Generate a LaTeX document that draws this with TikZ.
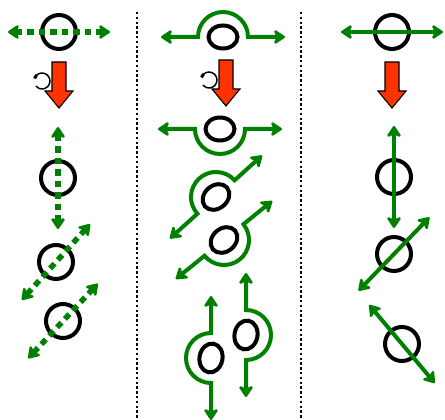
\documentclass[tikz,border=0pt]{standalone}
\usetikzlibrary{arrows.meta,shapes.geometric}
\definecolor{leafgreen}{RGB}{0,128,0}
\definecolor{pushred}{RGB}{255,51,0}
\tikzset{
  tip/.tip={Stealth[length=13pt,width=17pt,inset=3.5pt,round]},
  ring/.style={circle,draw,line width=4pt,minimum size=34pt,inner sep=0pt},
  oval/.style={ellipse,draw,line width=4pt,minimum width=29pt,minimum height=23pt,inner sep=0pt},
  swing/.style={leafgreen,line width=4pt,{tip}-{tip}},
  dotswing/.style={swing,line width=5.5pt,dash pattern=on 6.5pt off 5pt},
  divider/.style={line width=2.5pt,dash pattern=on 2.4pt off 2.4pt},
  pushdown/.style={fill=pushred,draw=black,line width=1.1pt,line join=miter}
}

\begin{document}
\begin{tikzpicture}[x=1pt,y=-1pt]
\useasboundingbox (0,0) rectangle (445,420);
\draw[divider] (137,12) -- (137,420);
\draw[divider] (301,12) -- (301,420);

% rotation marks and push arrows
\foreach \x/\y in {42/81,209/80}{
  \draw[line width=1.5pt] (\x,\y) ++(200:8) arc(200:500:8);
  \draw[line width=3pt] (\x,\y) ++(200:8) arc(200:228:8);
}
\foreach \x/\y in {59/62,226/60,392/62}
  \draw[pushdown] (\x-7,\y) -- (\x+7,\y) -- (\x+7,\y+29) -- (\x+14,\y+29)
    -- (\x,\y+46) -- (\x-14,\y+29) -- (\x-7,\y+29) -- cycle;

% left column
\node[ring] (l1) at (59,32) {};
\node[ring] (l2) at (58,178) {};
\node[ring] (l3) at (56,262) {};
\node[ring] (l4) at (63,321) {};
\foreach \n/\a in {l1/0,l2/90,l3/-48,l4/-47}
  \draw[dotswing] ([shift={(\a:-51)}]\n.center) -- ([shift={(\a:51)}]\n.center);

% middle column
\node[oval] (m1) at (223,37) {};
\node[oval] (m2) at (220,129) {};
\node[oval,rotate=40] (m3) at (216,197) {};
\node[oval,rotate=40] (m4) at (224,240) {};
\node[oval,rotate=80] (m5) at (211,358) {};
\node[oval,rotate=80] (m6) at (246,335) {};
\foreach \n/\b/\e in {m1/180/360,m2/180/0,m3/138/318,m4/141/-39,m5/90/270,m6/90/-90}
  \draw[swing] ([shift={(\b:62)}]\n.center) -- ([shift={(\b:25)}]\n.center)
    arc(\b:\e:25) -- ([shift={(\e:62)}]\n.center);

% right column
\node[ring] (r1) at (392,32) {};
\node[ring] (r2) at (394,177) {};
\node[ring] (r3) at (394,254) {};
\node[ring] (r4) at (402,344) {};
\foreach \n/\a in {r1/0,r2/90,r3/-46,r4/50}
  \draw[swing] ([shift={(\a:-51)}]\n.center) -- ([shift={(\a:51)}]\n.center);
\end{tikzpicture}
\end{document}
